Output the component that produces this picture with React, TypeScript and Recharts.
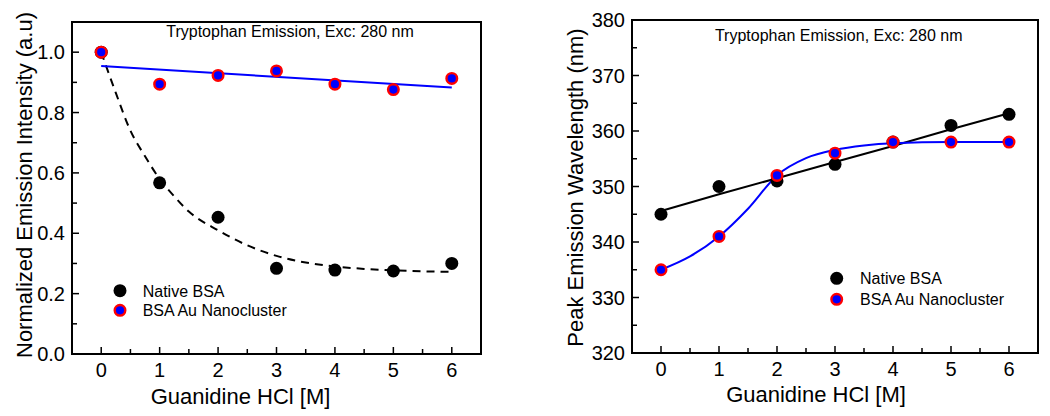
import { ComposedChart, Line, Scatter, XAxis, YAxis, ReferenceArea, Label } from 'recharts'

const FONT = '"Liberation Sans", Arial, Helvetica, sans-serif'
const BLUE = '#0000ff'
const RED = '#ff0000'

// Guanidine HCl [M]
const conc = [0, 1, 2, 3, 4, 5, 6]

// left panel - normalized emission intensity (a.u)
const nativeIntensity = [1.0, 0.567, 0.453, 0.284, 0.278, 0.275, 0.3]
const nanoIntensity = [1.0, 0.894, 0.923, 0.938, 0.894, 0.876, 0.913]
// decay fit (dashed)
const nativeDecayX = [0, 0.25, 0.5, 0.75, 1, 1.25, 1.5, 2, 2.5, 3, 3.5, 4, 4.5, 5, 5.5, 6]
const nativeDecayY = [1.0, 0.865, 0.74, 0.655, 0.58, 0.522, 0.472, 0.41, 0.36, 0.325, 0.303, 0.29, 0.282, 0.277, 0.274, 0.272]
// linear fit for the nanocluster
const nanoLineX = [0, 6]
const nanoLineY = [0.954, 0.883]

// right panel - peak emission wavelength (nm)
const nativePeak = [345, 350, 351, 354, 358, 361, 363]
const nanoPeak = [335, 341, 352, 356, 358, 358, 358]
const nativePeakLine = [345.6, 348.6, 351.5, 354.4, 357.3, 360.3, 363.2]
const nanoPeakCurveX = [0, 0.5, 1, 1.5, 2, 2.5, 3, 3.5, 4, 5, 6]
const nanoPeakCurveY = [335, 337.4, 341, 346, 352, 355.1, 356.6, 357.4, 357.8, 358, 358]

// ticks (major + minor)
const xTicks = [0, 0.5, 1, 1.5, 2, 2.5, 3, 3.5, 4, 4.5, 5, 5.5, 6]
const intensityTicks = [0, 0.1, 0.2, 0.3, 0.4, 0.5, 0.6, 0.7, 0.8, 0.9, 1.0]
const peakTicks = [320, 325, 330, 335, 340, 345, 350, 355, 360, 365, 370, 375, 380]

const TITLE = 'Tryptophan Emission, Exc: 280 nm'
const LEGEND = ['Native BSA', 'BSA Au Nanocluster']

const pts = (xs: number[], ys: number[]) => xs.map((x, i) => ({ x, y: ys[i] }))

const BlackDot = (p: any) => <circle cx={p.cx} cy={p.cy} r={6.5} fill="#000" />
const NanoDot = (p: any) => <circle cx={p.cx} cy={p.cy} r={5.3} fill={BLUE} stroke={RED} strokeWidth={2.4} />

// inward ticks, label only on majors
const XTick = (p: any) => {
  const v = p.payload.value
  const major = Number.isInteger(v)
  return (
    <g>
      <line x1={p.x} x2={p.x} y1={p.y} y2={p.y - (major ? 7 : 5)} stroke="#000" strokeWidth={1.5} />
      {major && (
        <text x={p.x} y={p.y + 23} textAnchor="middle" fontSize={20} fontFamily={FONT} fill="#000">{v}</text>
      )}
    </g>
  )
}

const makeYTick = (isMajor: (v: number) => boolean, fmt: (v: number) => string) => (p: any) => {
  const v = p.payload.value
  const major = isMajor(v)
  return (
    <g>
      <line x1={p.x} x2={p.x + (major ? 7 : 5)} y1={p.y} y2={p.y} stroke="#000" strokeWidth={1.5} />
      {major && (
        <text x={p.x - 7} y={p.y + 7} textAnchor="end" fontSize={20} fontFamily={FONT} fill="#000">{fmt(v)}</text>
      )}
    </g>
  )
}

const IntensityTick = makeYTick(v => Math.round(v * 10) % 2 === 0, v => v.toFixed(1))
const PeakTick = makeYTick(v => v % 10 === 0, v => String(v))

const xTitle = (dx: number, base: number) => (props: any) => {
  const { x, y, width } = props.viewBox
  return (
    <text x={x + width / 2 + dx} y={y + base} textAnchor="middle" fontSize={22} fontFamily={FONT} fill="#000">
      Guanidine HCl [M]
    </text>
  )
}

const yTitle = (text: string, bx: number, dy: number) => (props: any) => {
  const { y, height } = props.viewBox
  const cy = y + height / 2 + dy
  return (
    <text x={bx} y={cy} transform={`rotate(-90 ${bx} ${cy})`} textAnchor="middle" fontSize={22} fontFamily={FONT} fill="#000">
      {text}
    </text>
  )
}

function Overlay({ w, titleX, titleY, dotX, dotY, textX, textY }: any) {
  return (
    <svg width={w} height={416} style={{ position: 'absolute', left: 0, top: 0, pointerEvents: 'none' }}>
      <text x={titleX} y={titleY} textAnchor="middle" fontSize={16} fontFamily={FONT} fill="#000">{TITLE}</text>
      <circle cx={dotX} cy={dotY[0]} r={6.5} fill="#000" />
      <circle cx={dotX} cy={dotY[1]} r={5.3} fill={BLUE} stroke={RED} strokeWidth={2.4} />
      <text x={textX} y={textY[0]} fontSize={16} fontFamily={FONT} fill="#000">{LEGEND[0]}</text>
      <text x={textX} y={textY[1]} fontSize={16} fontFamily={FONT} fill="#000">{LEGEND[1]}</text>
    </svg>
  )
}

function IntensityPanel() {
  return (
    <div style={{ position: 'absolute', left: 0, top: 0, width: 540, height: 416 }}>
      <ComposedChart width={540} height={416} margin={{ top: 22, right: 59, bottom: 0, left: 0 }}>
        <XAxis type="number" dataKey="x" domain={[-0.5, 6.5]} ticks={xTicks} interval={0} allowDataOverflow
          axisLine={false} tickLine={false} tickSize={0} tickMargin={0} height={62} tick={<XTick />}>
          <Label content={xTitle(-36, 49.5)} />
        </XAxis>
        <YAxis type="number" dataKey="y" domain={[0, 1.1]} ticks={intensityTicks} interval={0} allowDataOverflow
          axisLine={false} tickLine={false} tickSize={0} tickMargin={0} width={72} tick={<IntensityTick />}>
          <Label content={yTitle('Normalized Emission Intensity (a.u)', 31.5, -3)} />
        </YAxis>
        <ReferenceArea x1={-0.5} x2={6.5} y1={0} y2={1.1} fill="none" stroke="#000" strokeWidth={2} />
        <Line data={pts(nativeDecayX, nativeDecayY)} dataKey="y" type="monotone" stroke="#000" strokeWidth={2}
          strokeDasharray="8 6" dot={false} activeDot={false} isAnimationActive={false} />
        <Line data={pts(nanoLineX, nanoLineY)} dataKey="y" type="linear" stroke={BLUE} strokeWidth={2}
          dot={false} activeDot={false} isAnimationActive={false} />
        <Scatter data={pts(conc, nativeIntensity)} shape={BlackDot} isAnimationActive={false} />
        <Scatter data={pts(conc, nanoIntensity)} shape={NanoDot} isAnimationActive={false} />
      </ComposedChart>
      <Overlay w={540} titleX={290} titleY={37} dotX={120} dotY={[290.7, 310.3]} textX={142.7} textY={[296.5, 316]} />
    </div>
  )
}

function PeakPanel() {
  return (
    <div style={{ position: 'absolute', left: 540, top: 0, width: 510, height: 416 }}>
      <ComposedChart width={510} height={416} margin={{ top: 20, right: 12, bottom: 0, left: 0 }}>
        <XAxis type="number" dataKey="x" domain={[-0.5, 6.5]} ticks={xTicks} interval={0} allowDataOverflow
          axisLine={false} tickLine={false} tickSize={0} tickMargin={0} height={63} tick={<XTick />}>
          <Label content={xTitle(-19, 49)} />
        </XAxis>
        <YAxis type="number" dataKey="y" domain={[320, 380]} ticks={peakTicks} interval={0} allowDataOverflow
          axisLine={false} tickLine={false} tickSize={0} tickMargin={0} width={92} tick={<PeakTick />}>
          <Label content={yTitle('Peak Emission Wavelength (nm)', 43, 1)} />
        </YAxis>
        <ReferenceArea x1={-0.5} x2={6.5} y1={320} y2={380} fill="none" stroke="#000" strokeWidth={2} />
        <Line data={pts(conc, nativePeakLine)} dataKey="y" type="linear" stroke="#000" strokeWidth={2}
          dot={false} activeDot={false} isAnimationActive={false} />
        <Line data={pts(nanoPeakCurveX, nanoPeakCurveY)} dataKey="y" type="monotone" stroke={BLUE} strokeWidth={2}
          dot={false} activeDot={false} isAnimationActive={false} />
        <Scatter data={pts(conc, nativePeak)} shape={BlackDot} isAnimationActive={false} />
        <Scatter data={pts(conc, nanoPeak)} shape={NanoDot} isAnimationActive={false} />
      </ComposedChart>
      <Overlay w={510} titleX={298.7} titleY={40.7} dotX={296.7} dotY={[278.3, 299.3]} textX={320} textY={[284.3, 305]} />
    </div>
  )
}

export default function App() {
  return (
    <div style={{ position: 'absolute', left: 0, top: 0, width: 1050, height: 416, background: '#fff' }}>
      <IntensityPanel />
      <PeakPanel />
    </div>
  )
}
